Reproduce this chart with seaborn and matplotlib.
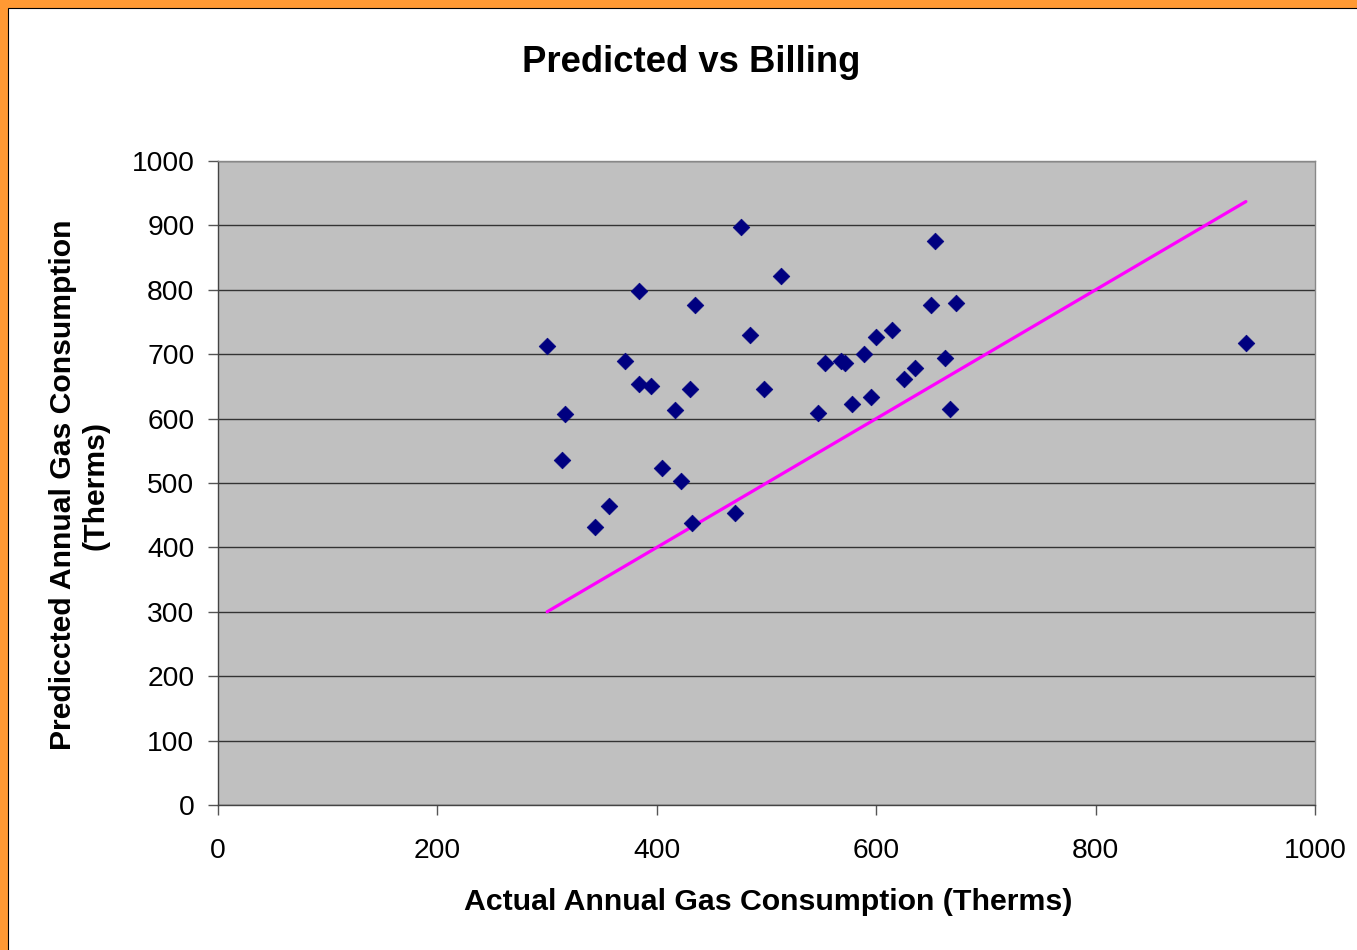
import matplotlib
matplotlib.use("Agg")
import matplotlib.pyplot as plt
from matplotlib.patches import Rectangle
import seaborn as sns
import pandas as pd

actual = [477, 513, 384, 435, 300, 485, 371, 384, 395, 430, 498, 417, 316,
          314, 405, 422, 356, 344, 432, 471, 654, 650, 673, 614, 600, 589,
          553, 568, 572, 663, 635, 625, 595, 578, 547, 667, 937]
predicted = [898, 822, 798, 776, 712, 730, 690, 654, 650, 646, 646, 614, 607,
             536, 524, 503, 464, 431, 438, 453, 876, 776, 780, 738, 726, 701,
             686, 690, 686, 694, 679, 662, 633, 622, 608, 615, 718]
line_x = [300, 937]
line_y = [300, 937]
x_ticks = [0, 200, 400, 600, 800, 1000]
y_ticks = [0, 100, 200, 300, 400, 500, 600, 700, 800, 900, 1000]

sns.set_theme(style="white")
plt.rcParams['font.family'] = ['Liberation Sans', 'DejaVu Sans']
plt.rcParams['text.color'] = 'black'
plt.rcParams['xtick.color'] = 'black'
plt.rcParams['ytick.color'] = 'black'

W, H = 1357, 950
fig = plt.figure(figsize=(W / 100, H / 100), dpi=100)
fig.patches.append(Rectangle((0, 0), 1, 1, transform=fig.transFigure,
                             facecolor="#FF9933", edgecolor="none", zorder=-10))
fig.patches.append(Rectangle((7.5 / W, -0.01), 1.1, 1 - 7.5 / H + 0.01,
                             transform=fig.transFigure, facecolor="white",
                             edgecolor="black", linewidth=0.8, zorder=-9))

ax = fig.add_axes([218 / W, 1 - 805 / H, (1315 - 218) / W, (805 - 161) / H])
ax.set_facecolor("#C0C0C0")

df_pts = pd.DataFrame({"actual": actual, "predicted": predicted})
df_line = pd.DataFrame({"x": line_x, "y": line_y})

sns.lineplot(data=df_line, x="x", y="y", ax=ax, color="#FF00FF",
             linewidth=2.3, zorder=3)
sns.scatterplot(data=df_pts, x="actual", y="predicted", ax=ax, marker="D",
                s=72, color="#000080", edgecolor="#000080", linewidth=0.5,
                zorder=4)

ax.set_xlim(0, 1000)
ax.set_ylim(0, 1000)
ax.set_xticks(x_ticks)
ax.set_yticks(y_ticks)
ax.set_xticklabels([str(t) for t in x_ticks], fontsize=20.3, color="black")
ax.set_yticklabels([str(t) for t in y_ticks], fontsize=20.3, color="black")
ax.yaxis.grid(True, color="#333333", linewidth=1.0)
ax.xaxis.grid(False)
ax.set_axisbelow(True)
ax.tick_params(axis="both", direction="out", length=7, width=1,
               color="#555555", bottom=True, left=True, pad=10)
ax.tick_params(axis="x", pad=17)
for side in ["left", "bottom"]:
    ax.spines[side].set_color("#444444")
    ax.spines[side].set_linewidth(1.0)
for side in ["top", "right"]:
    ax.spines[side].set_color("#888888")
    ax.spines[side].set_linewidth(1.0)

ax.set_xlabel("")
ax.set_ylabel("")
fig.text(768 / W, 1 - 902 / H, "Actual Annual Gas Consumption (Therms)",
         ha="center", va="center", fontsize=21.8, fontweight="bold",
         color="black")
fig.text(79 / W, 1 - 485 / H, "Prediccted Annual Gas Consumption\n(Therms)",
         ha="center", va="center", fontsize=21.7, fontweight="bold",
         rotation=90, linespacing=1.2, color="black")
fig.text(691 / W, 1 - 62 / H, "Predicted vs Billing", ha="center",
         va="center", fontsize=26.3, fontweight="bold", color="black")

fig.savefig("out.png", dpi=100)
